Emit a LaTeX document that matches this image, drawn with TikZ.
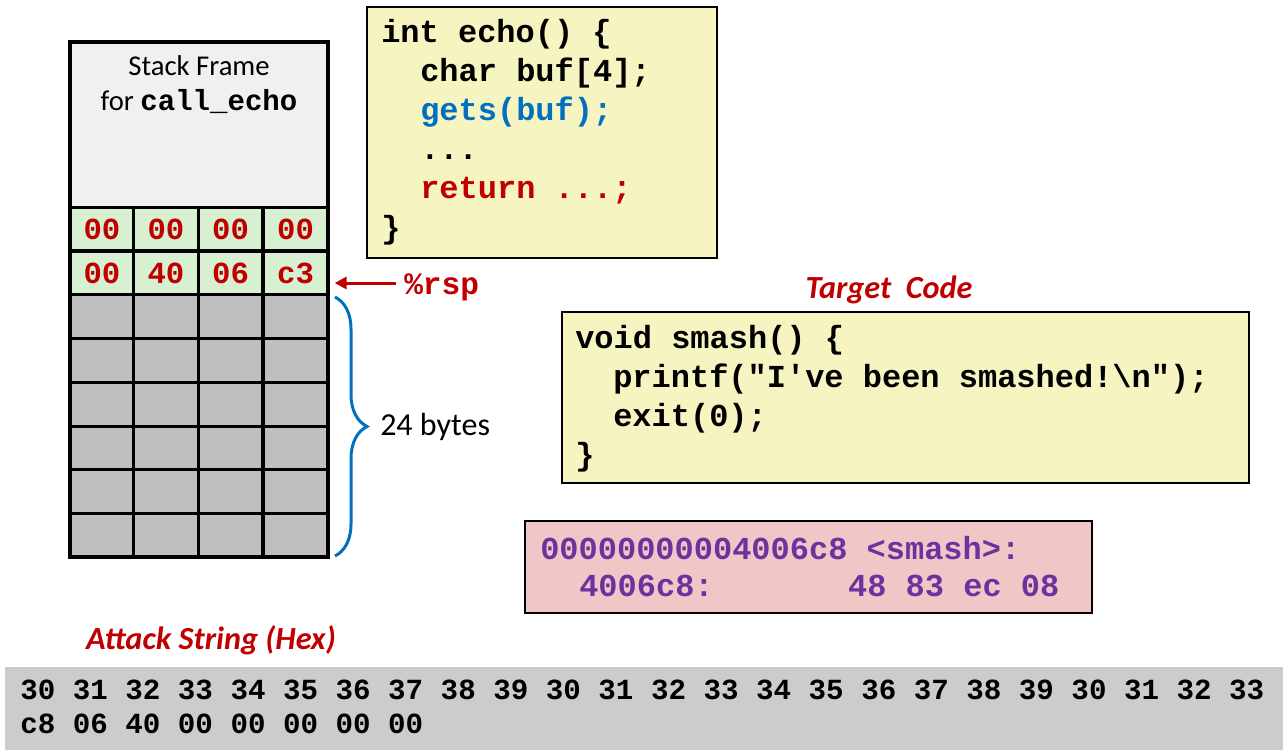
\documentclass[tikz,border=0pt]{standalone}
\usepackage{fontspec}
\setmainfont{Carlito}
\setmonofont{Liberation Mono}
\usetikzlibrary{decorations.pathreplacing,arrows.meta}
\definecolor{cred}{HTML}{C00000}
\definecolor{cblue}{HTML}{0070C0}
\definecolor{cpurple}{HTML}{7030A0}
\definecolor{cyellow}{HTML}{F6F4C0}
\definecolor{cpink}{HTML}{F1C6C6}
\definecolor{cgreen}{HTML}{D8F0D2}
\definecolor{cgrey}{HTML}{BFBFBF}
\definecolor{ctop}{HTML}{F0F0F0}
\definecolor{cband}{HTML}{CCCCCC}
\begin{document}
\begin{tikzpicture}[x=0.75pt,y=-0.75pt,
  cell/.style={draw=black,line width=2.25pt,inner sep=0pt,minimum width=48.4pt,minimum height=32.8pt},
  gcell/.style={cell,fill=cgreen,text=cred,font=\fontsize{23}{27}\selectfont\ttfamily\bfseries},
  ycell/.style={cell,fill=cgrey},
  box/.style={draw=black,line width=1.5pt,inner sep=0pt},
  code/.style={anchor=base west,inner sep=0pt,font=\fontsize{24}{29}\selectfont\ttfamily\bfseries},
  hexs/.style={anchor=base west,inner sep=0pt,font=\fontsize{21.9}{26}\selectfont\ttfamily\bfseries},
  title/.style={inner sep=0pt,text=cred,font=\fontsize{24.2}{28}\selectfont\bfseries\itshape},
  label/.style={inner sep=0pt}]
\useasboundingbox (0,0) rectangle (1288,756);
% stack frame top
\node[draw=black,line width=2.25pt,fill=ctop,inner sep=0pt,minimum width=193.5pt,minimum height=123.75pt] (sf) at (199,124.5) {};
\node[label,anchor=base,font=\fontsize{21.5}{26}\selectfont] (sft1) at (199,76) {Stack Frame};
\node[label,anchor=base,font=\fontsize{21.5}{26}\selectfont] (sft2) at (199,111) {for {\ttfamily\bfseries\fontsize{21.8}{26}\selectfont call\_echo}};
% green cells
\node[gcell] (a1) at (102,229) {00};
\node[gcell] (a2) at (166,229) {00};
\node[gcell] (a3) at (230.5,229) {00};
\node[gcell] (a4) at (295.5,229) {00};
\node[gcell] (b1) at (102,273) {00};
\node[gcell] (b2) at (166,273) {40};
\node[gcell] (b3) at (230.5,273) {06};
\node[gcell] (b4) at (295.5,273) {c3};
% grey cells
\foreach \r/\y in {1/316.8,2/360.5,3/404.2,4/447.9,5/491.6,6/535.3}{
  \foreach \c/\x in {1/102,2/166,3/230.5,4/295.5}{
    \node[ycell] (g\r\c) at (\x,\y) {};
  }
}
\node[draw=black,line width=3pt,inner sep=0pt,minimum width=193.5pt,minimum height=386.25pt] (frame) at (199,299.5) {};
% rsp
\node[label,anchor=base west,text=cred,font=\fontsize{23.4}{28}\selectfont\ttfamily\bfseries] (rsp) at (404,294) {\%rsp};
\coordinate (rs) at (396,283);
\draw[cred,line width=2.25pt,shorten >=4pt,-{Triangle[length=9pt,width=9pt]}] (rs) -- (rs -| b4.east);
% brace
\coordinate (bt) at (335,297);
\coordinate (bb) at (335,556);
\draw[cblue,line width=2.25pt,decorate,decoration={brace,amplitude=24pt,aspect=0.5}] (bt) -- (bb);
\node[label,anchor=west,font=\fontsize{24}{28}\selectfont] (bytes) at (380,427) {24 bytes};
% echo code
\node[box,fill=cyellow,minimum width=262.5pt,minimum height=188.25pt] (echo) at (542,132.5) {};
\node[code] (e1) at (381,43) {int echo() \{};
\node[code] (e2) at (420,82) {char buf[4];};
\node[code,text=cblue] (e3) at (420,121) {gets(buf);};
\node[code] (e4) at (420,160) {...};
\node[code,text=cred] (e5) at (420,199) {return ...;};
\node[code] (e6) at (381,238) {\}};
% target code
\node[title] (tct) at (889,290) {Target\ \ Code};
\node[box,fill=cyellow,minimum width=515.25pt,minimum height=128.25pt] (target) at (905.5,397.5) {};
\node[code] (t1) at (575,348) {void smash() \{};
\node[code] (t2) at (613,387) {printf("I've been smashed!\textbackslash n");};
\node[code] (t3) at (613,426) {exit(0);};
\node[code] (t4) at (575,465) {\}};
% smash disassembly
\node[box,fill=cpink,minimum width=425.25pt,minimum height=69pt] (dis) at (808.5,567) {};
\node[code,text=cpurple] (d1) at (540,559) {00000000004006c8 <smash>:};
\node[code,text=cpurple] (d2) at (579,596) {4006c8:\hphantom{0000000}48 83 ec 08};
% attack string
\node[title] (att) at (211,640) {Attack String (Hex)};
\node[fill=cband,inner sep=0pt,minimum width=958.5pt,minimum height=62.25pt] (band) at (644,708.5) {};
\node[hexs] (h1) at (20,699) {30 31 32 33 34 35 36 37 38 39 30 31 32 33 34 35 36 37 38 39 30 31 32 33};
\node[hexs] (h2) at (20,733) {c8 06 40 00 00 00 00 00};
\end{tikzpicture}
\end{document}
